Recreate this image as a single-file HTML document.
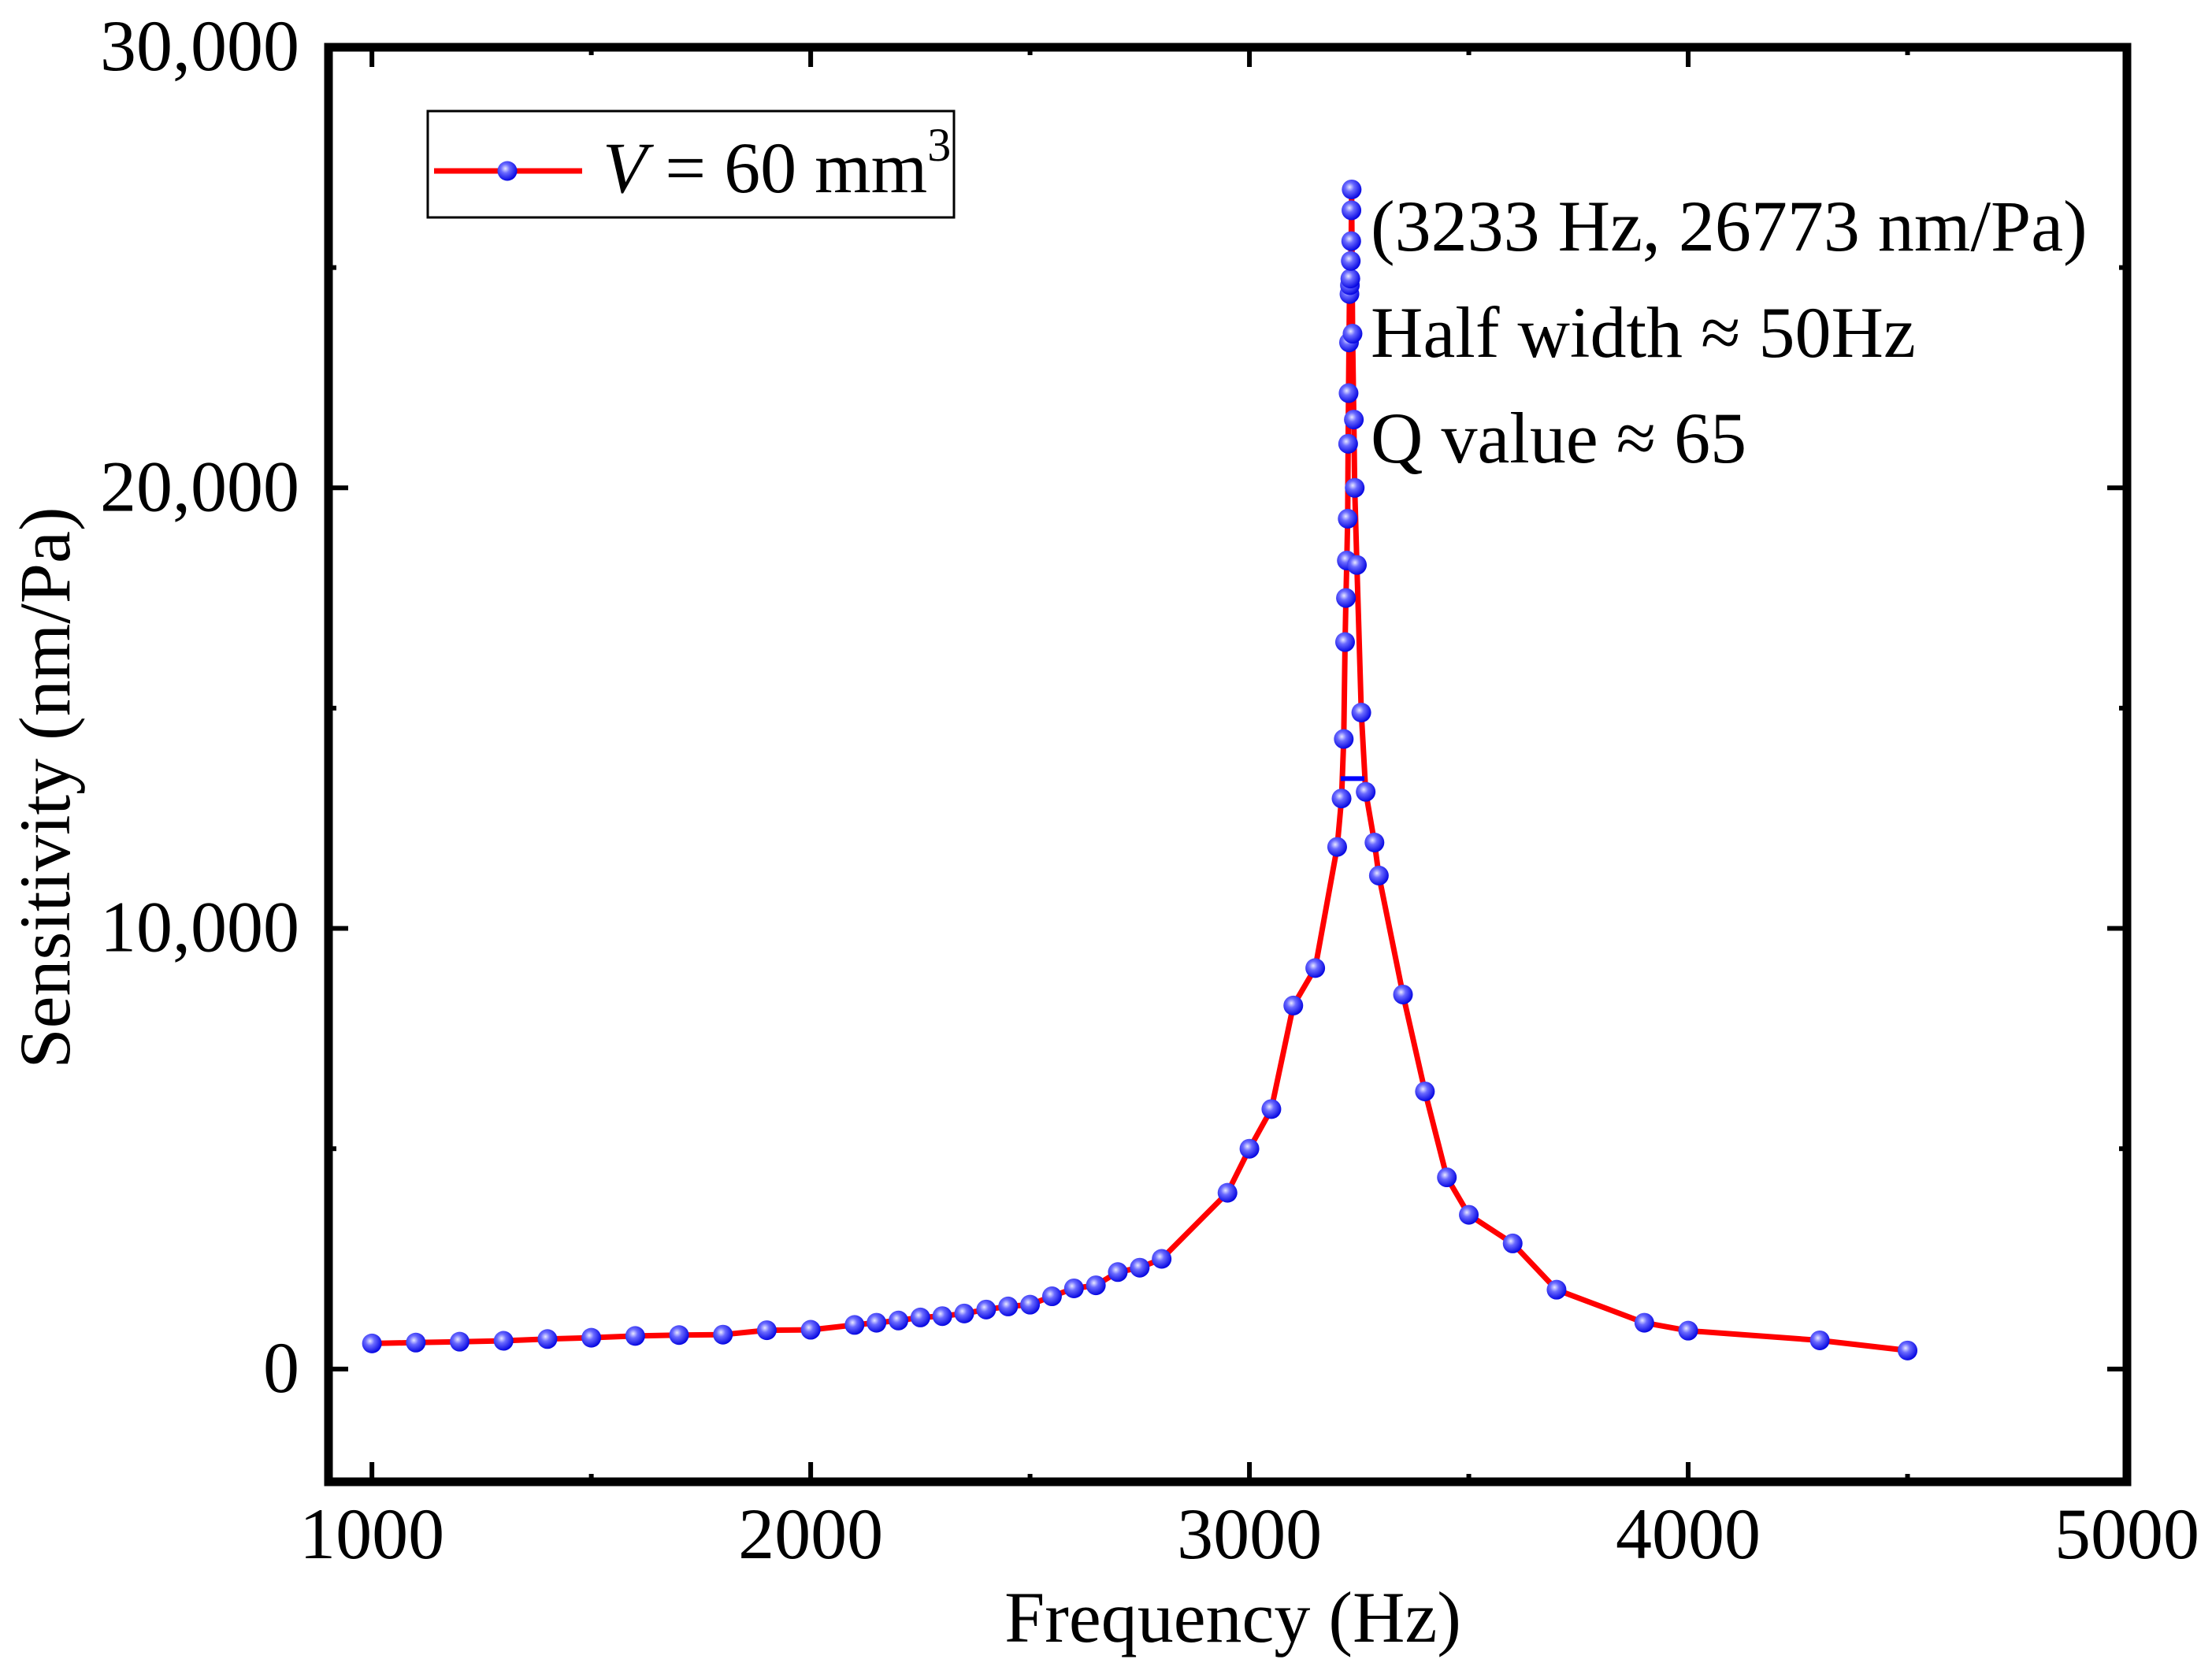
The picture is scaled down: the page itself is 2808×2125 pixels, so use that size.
<!DOCTYPE html>
<html><head><meta charset="utf-8">
<style>
html,body{margin:0;padding:0;background:#fff;}
svg{display:block;}
text{font-family:"Liberation Serif",serif;fill:#000;}
</style></head>
<body>
<svg id="chart" width="2808" height="2125" viewBox="0 0 2808 2125" xmlns="http://www.w3.org/2000/svg">
<defs>
<radialGradient id="ball" cx="0.4" cy="0.38" r="0.65">
<stop offset="0" stop-color="#e8e8ff"/>
<stop offset="0.35" stop-color="#6a6aff"/>
<stop offset="1" stop-color="#0000e0"/>
</radialGradient>
</defs>
<g id="plot"></g>
</svg>
<script>
const freqs = [1000,1100,1200,1300,1400,1500,1600,1700,1800,1900,2000,2100,2150,2200,2250,2300,2350,2400,2450,2500,2550,2600,2650,2700,2750,2800,2950,3000,3050,3100,3150,3200,3210,3215,3218,3220,3222,3224,3225,3226,3227,3228,3229,3230,3231,3232,3232.5,3233,3235,3238,3240,3245,3255,3265,3285,3295,3350,3400,3450,3500,3600,3700,3900,4000,4300,4500];
const sens = [580,600,620,640,680,710,750,770,780,880,890,1000,1050,1100,1170,1200,1260,1350,1420,1460,1650,1830,1900,2200,2300,2500,4000,5000,5900,8250,9100,11850,12950,14300,16500,17500,18350,19300,21000,22150,23300,24400,24600,24750,25150,25600,26300,26773,23500,21550,20000,18250,14900,13100,11950,11200,8500,6300,4350,3500,2850,1800,1050,870,650,420];
const xTicks = [1000,2000,3000,4000,5000];
const xTickLabels = ["1000","2000","3000","4000","5000"];
const yTicks = [0,10000,20000,30000];
const yTickLabels = ["0","10,000","20,000","30,000"];
const halfWidth = [3208,3262,13400];

const NS="http://www.w3.org/2000/svg";
const L=417,R=2700,T=60,B=1881;
const xMin=901,xMax=5000,yMin=-2560,yMax=30000;
const xs=v=>L+(v-xMin)/(xMax-xMin)*(R-L);
const ys=v=>B-(v-yMin)/(yMax-yMin)*(B-T);
const g=document.getElementById('plot');
function mk(tag,attrs,parent){const e=document.createElementNS(NS,tag);for(const k in attrs)e.setAttribute(k,attrs[k]);(parent||g).appendChild(e);return e;}

let d=freqs.map((f,i)=>(i?'L':'M')+xs(f).toFixed(1)+' '+ys(sens[i]).toFixed(1)).join(' ');
const line=mk('path',{d:d,fill:'none',stroke:'#ff0000','stroke-width':7,'stroke-linejoin':'round'});



const hw=mk('line',{x1:xs(halfWidth[0]),x2:xs(halfWidth[1]),y1:ys(halfWidth[2]),y2:ys(halfWidth[2]),stroke:'#0000ff','stroke-width':6});



freqs.forEach((f,i)=>{
  const c=mk('circle',{cx:xs(f),cy:ys(sens[i]),r:12.5,fill:'url(#ball)'});
  
  
});

const fr=mk('rect',{x:L,y:T,width:R-L,height:B-T,fill:'none',stroke:'#000','stroke-width':11});



for(let v=1000;v<=5000;v+=500){
  const major=v%1000===0, len=major?25:10, x=xs(v);
  const t1=mk('line',{x1:x,x2:x,y1:B,y2:B-len,stroke:'#000','stroke-width':6});
  
  
  const t2=mk('line',{x1:x,x2:x,y1:T,y2:T+len,stroke:'#000','stroke-width':6});
  
  
}
xTicks.forEach((v,i)=>{
  const t=mk('text',{x:xs(v),y:1978,'text-anchor':'middle','font-size':92});
  t.textContent=xTickLabels[i];
  
  
});
for(let v=0;v<=30000;v+=5000){
  const major=v%10000===0, len=major?25:10, y=ys(v);
  const t1=mk('line',{x1:L,x2:L+len,y1:y,y2:y,stroke:'#000','stroke-width':6});
  
  
  const t2=mk('line',{x1:R,x2:R-len,y1:y,y2:y,stroke:'#000','stroke-width':6});
  
  
}
yTicks.forEach((v,i)=>{
  const t=mk('text',{x:380,y:ys(v)+29,'text-anchor':'end','font-size':92});
  t.textContent=yTickLabels[i];
  
  
});
</script>
<svg style="position:absolute;left:0;top:0" width="2808" height="2125" xmlns="http://www.w3.org/2000/svg">
<text x="1565" y="2084" text-anchor="middle" font-size="92">Frequency (Hz)</text>
<text transform="translate(88,1000) rotate(-90)" text-anchor="middle" font-size="92">Sensitivity (nm/Pa)</text>
<g>
<rect x="543" y="141" width="668" height="135" fill="#fff" stroke="#000" stroke-width="3"/>
<line x1="551" x2="739" y1="217" y2="217" stroke="#ff0000" stroke-width="7"/>
<circle cx="644" cy="217" r="12.5" fill="url(#ball)"/>
<text x="765" y="244" font-size="92"><tspan font-style="italic">V</tspan> = 60 mm<tspan font-size="60" dy="-40">3</tspan></text>
</g>
<text x="1740" y="318" font-size="92">(3233 Hz, 26773 nm/Pa)</text>
<text x="1740" y="453" font-size="92">Half width ≈ 50Hz</text>
<text x="1740" y="587" font-size="92">Q value ≈ 65</text>
</svg>
</body></html>
